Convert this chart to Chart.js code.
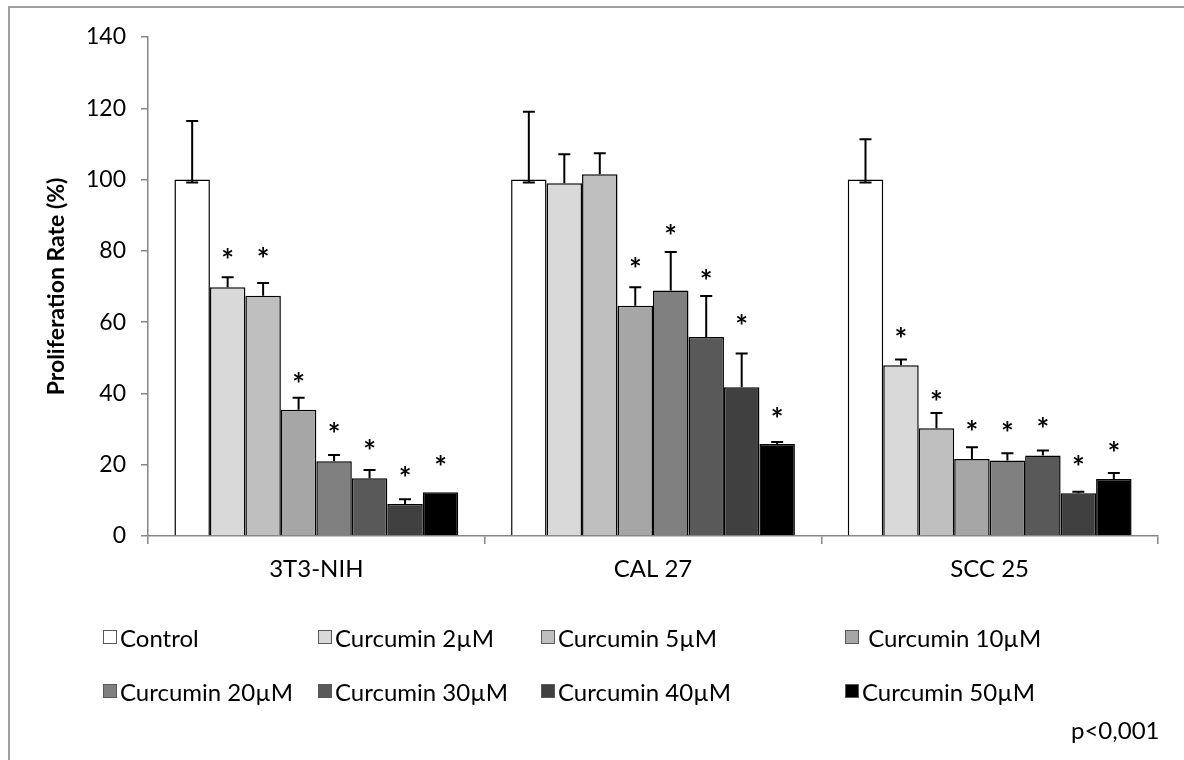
<!DOCTYPE html>
<html>
<head>
<meta charset="utf-8">
<script src="https://cdn.jsdelivr.net/npm/chart.js@4/dist/chart.umd.min.js"></script>
<style>
   body { margin: 0; background: #fff; font-family: Lato, "Open Sans", sans-serif; }
   #myChart { position: absolute; left: 0; top: 0; }
   .frame {
      position: absolute; left: 8px; top: 6px; width: 1300px; height: 900px;
      border-left: 2px solid #a0a0a0; border-top: 2px solid #a0a0a0;
   }
   .legend-item {
      position: absolute; font-size: 24px; color: #000; white-space: pre;
      display: flex; align-items: center; height: 30px; margin-top: -15px;
   }
   .legend-box {
      width: 12px; height: 12px; border: 1px solid #595959; margin-right: 3px;
   }
   .note { position: absolute; left: 1071px; top: 715px; font-size: 24px; }
</style>
</head>
<body>
<div class="frame"></div>
<canvas id="myChart" width="1184" height="760"></canvas>
<div id="legend"></div>
<div class="note">p&lt;0,001</div>
<script>
// data
let cellLines = ["3T3-NIH", "CAL 27", "SCC 25"];
let seriesNames = ["Control", "Curcumin 2µM", "Curcumin 5µM", " Curcumin 10µM",
   "Curcumin 20µM", "Curcumin 30µM", "Curcumin 40µM", "Curcumin 50µM"];
let barColors = ["#ffffff", "#d9d9d9", "#bfbfbf", "#a6a6a6", "#808080", "#595959", "#404040", "#000000"];

let control = [100, 100, 100];
let curc2 = [69.8, 99.0, 47.9];
let curc5 = [67.4, 101.5, 30.2];
let curc10 = [35.4, 64.6, 21.6];
let curc20 = [21.0, 68.9, 21.2];
let curc30 = [16.2, 55.8, 22.6];
let curc40 = [9.0, 41.7, 12.0];
let curc50 = [12.3, 25.8, 16.0];

// error bars (plus side)
let errControl = [16.4, 19.0, 11.3];
let err2 = [2.8, 8.1, 1.6];
let err5 = [3.6, 5.9, 4.3];
let err10 = [3.4, 5.2, 3.3];
let err20 = [1.7, 10.8, 2.0];
let err30 = [2.3, 11.5, 1.4];
let err40 = [1.3, 9.5, 0.4];
let err50 = [0, 0.6, 1.7];
// minus side, only visible on control
let errControlMinus = [0.8, 0.8, 0.8];

// asterisk heights
let starControl = [null, null, null];
let star2 = [78.9, null, 56.9];
let star5 = [79.3, null, 39.3];
let star10 = [44.3, 76.5, 30.7];
let star20 = [30.3, 85.7, 30.4];
let star30 = [25.3, 73.2, 31.6];
let star40 = [18.0, 60.6, 21.0];
let star50 = [20.9, 34.4, 24.9];

let yTicks = [0, 20, 40, 60, 80, 100, 120, 140];

let values = [control, curc2, curc5, curc10, curc20, curc30, curc40, curc50];
let errs = [errControl, err2, err5, err10, err20, err30, err40, err50];
let stars = [starControl, star2, star5, star10, star20, star30, star40, star50];

// legend (html)
let legendCols = [103, 318, 541, 845];
let legendRows = [637, 691];
let legendEl = document.getElementById("legend");
seriesNames.forEach((name, i) => {
   let item = document.createElement("div");
   item.className = "legend-item";
   item.style.left = legendCols[i % 4] + "px";
   item.style.top = legendRows[Math.floor(i / 4)] + "px";
   item.innerHTML = '<span class="legend-box" style="background:' + barColors[i] + '"></span>';
   item.appendChild(document.createTextNode(name));
   legendEl.appendChild(item);
});

// error bars + asterisks
const errorBars = {
   id: "errorBars",
   afterDatasetsDraw(chart) {
      const ctx = chart.ctx;
      const y = chart.scales.y;
      ctx.save();
      ctx.strokeStyle = "#000";
      ctx.fillStyle = "#000";
      ctx.lineWidth = 2;
      chart.data.datasets.forEach((ds, i) => {
         chart.getDatasetMeta(i).data.forEach((bar, j) => {
            let v = ds.data[j];
            let x = bar.x;
            let minus = ds.errMinus ? ds.errMinus[j] : 0;
            if (ds.errPlus[j] > 0) {
               let top = y.getPixelForValue(v + ds.errPlus[j]);
               let bot = y.getPixelForValue(v - minus);
               ctx.beginPath();
               ctx.moveTo(x, bot);
               ctx.lineTo(x, top);
               ctx.moveTo(x - 6, top);
               ctx.lineTo(x + 6, top);
               if (minus > 0) {
                  ctx.moveTo(x - 6, bot);
                  ctx.lineTo(x + 6, bot);
               }
               ctx.stroke();
            }
            if (ds.stars[j] != null) {
               ctx.font = "bold 30px Lato";
               ctx.textAlign = "center";
               ctx.textBaseline = "middle";
               ctx.fillText("*", x, y.getPixelForValue(ds.stars[j]) + 7);
            }
         });
      });
      ctx.restore();
   },
};

new Chart("myChart", {
   type: "bar",
   data: {
      labels: cellLines,
      datasets: values.map((d, i) => ({
         label: seriesNames[i],
         data: d,
         backgroundColor: barColors[i],
         borderColor: "#000",
         borderWidth: 1.5,
         errPlus: errs[i],
         errMinus: i === 0 ? errControlMinus : null,
         stars: stars[i],
      })),
   },
   options: {
      responsive: false,
      animation: false,
      layout: { padding: { top: 37, right: 26, bottom: 0, left: 0 } },
      datasets: { bar: { categoryPercentage: 0.843, barPercentage: 1 } },
      plugins: {
         legend: { display: false },
         tooltip: { enabled: false },
      },
      scales: {
         x: {
            afterFit: (s) => { s.height = 224; },
            grid: { drawOnChartArea: false, tickLength: 8, color: "#868686", lineWidth: 1.5 },
            border: { color: "#868686", width: 1.5 },
            ticks: { color: "#000", padding: 11, font: { family: "Lato", size: 24 } },
         },
         y: {
            min: 0,
            max: 140,
            afterFit: (s) => { s.width = 148; },
            afterBuildTicks: (s) => { s.ticks = yTicks.map((v) => ({ value: v })); },
            grid: { drawOnChartArea: false, tickLength: 7, color: "#868686", lineWidth: 1.5 },
            border: { color: "#868686", width: 1.5 },
            ticks: { color: "#000", padding: 15, font: { family: "Lato", size: 23 } },
            title: {
               display: true,
               text: "Proliferation Rate (%)",
               color: "#000",
               padding: { top: 43, bottom: 0 },
               font: { family: "Lato", size: 23, weight: "bold" },
            },
         },
      },
   },
   plugins: [errorBars],
});
</script>
</body>
</html>
